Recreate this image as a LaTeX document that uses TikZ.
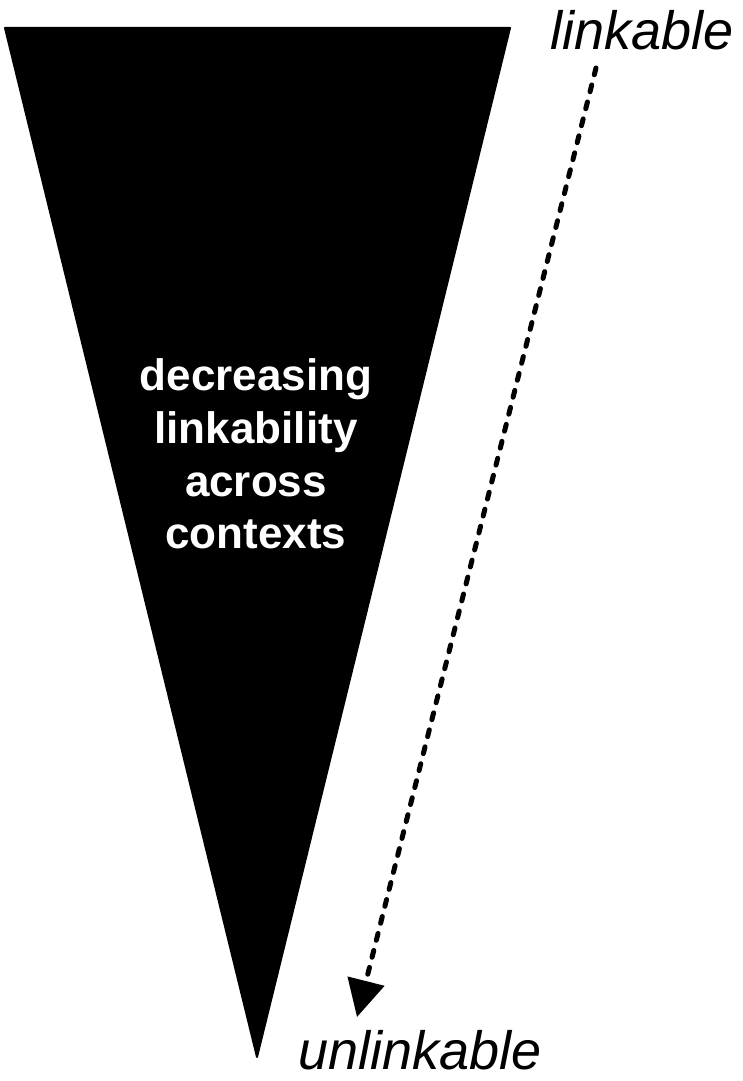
\documentclass[tikz,border=0pt]{standalone}
\usepackage{fontspec}
\setmainfont{Liberation Sans}
\usetikzlibrary{arrows.meta}
\begin{document}
\begin{tikzpicture}[x=1pt,y=1pt,
  funnel/.style={fill=black,draw=black,line width=2pt,line join=round},
  label/.style={font=\fontsize{54}{60}\selectfont\itshape,inner sep=0pt},
  inner/.style={font=\fontsize{44}{52.7}\selectfont\bfseries,text=white,align=center,inner sep=0pt},
  trend/.style={line width=5pt,line cap=round,dash pattern=on 7pt off 10.5pt,
    -{Triangle[length=37pt,width=37pt]}}]
  \useasboundingbox (0,0) rectangle (743,1081);
  % inverted triangle
  \coordinate (tl) at (5,1053);
  \coordinate (tr) at (510,1053);
  \coordinate (tip) at (257,24);
  \draw[funnel] (tl) -- (tr) -- (tip) -- cycle;
  \node[inner] (mid) at (256,627) {decreasing\\linkability\\across\\contexts};
  % end labels and arrow
  \node[label,anchor=base] (top) at (642,1031) {linkable};
  \node[label,anchor=base] (bot) at (420,11) {unlinkable};
  \coordinate (a1) at (596,1013);
  \coordinate (a2) at (357,64);
  \draw[trend] (a1) -- (a2);
\end{tikzpicture}
\end{document}
